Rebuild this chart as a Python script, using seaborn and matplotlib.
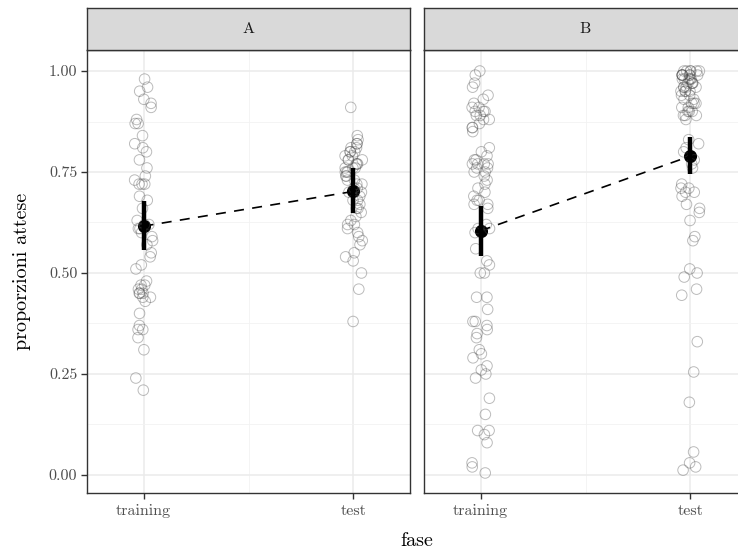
import numpy as np
import pandas as pd
import seaborn as sns
import matplotlib.pyplot as plt

sns.set_theme(style="white")
plt.rcParams["font.family"] = ["cmr10", "DejaVu Serif"]
plt.rcParams["axes.formatter.use_mathtext"] = True

# valori (proporzioni attese per soggetto)
a_training = [0.98, 0.96, 0.95, 0.93, 0.92, 0.91, 0.88, 0.87, 0.87, 0.84, 0.82, 0.81, 0.80,
              0.78, 0.76, 0.74, 0.73, 0.72, 0.72, 0.72, 0.69, 0.68, 0.66, 0.63, 0.62, 0.62,
              0.61, 0.61, 0.60, 0.59, 0.58, 0.57, 0.55, 0.54, 0.52, 0.51, 0.48, 0.47, 0.47,
              0.46, 0.46, 0.45, 0.45, 0.45, 0.44, 0.44, 0.43, 0.40, 0.37, 0.36, 0.36, 0.34,
              0.31, 0.24, 0.21]
a_test = [0.91, 0.84, 0.83, 0.82, 0.82, 0.81, 0.81, 0.80, 0.80, 0.80, 0.79, 0.79, 0.78, 0.78,
          0.78, 0.77, 0.77, 0.77, 0.76, 0.76, 0.76, 0.75, 0.75, 0.75, 0.74, 0.74, 0.73, 0.73,
          0.72, 0.72, 0.71, 0.71, 0.70, 0.70, 0.69, 0.68, 0.68, 0.67, 0.66, 0.66, 0.65, 0.64,
          0.63, 0.62, 0.62, 0.61, 0.60, 0.59, 0.58, 0.57, 0.55, 0.54, 0.53, 0.50, 0.46, 0.38]
b_training = [1.00, 0.99, 0.97, 0.96, 0.94, 0.93, 0.92, 0.91, 0.91, 0.90, 0.90, 0.90, 0.89,
              0.89, 0.88, 0.88, 0.87, 0.86, 0.86, 0.85, 0.81, 0.80, 0.79, 0.78, 0.78, 0.77,
              0.77, 0.77, 0.77, 0.76, 0.76, 0.75, 0.75, 0.74, 0.73, 0.72, 0.71, 0.70, 0.69,
              0.68, 0.68, 0.67, 0.67, 0.66, 0.62, 0.61, 0.61, 0.60, 0.56, 0.53, 0.52, 0.50,
              0.50, 0.44, 0.44, 0.41, 0.38, 0.38, 0.37, 0.36, 0.35, 0.34, 0.31, 0.30, 0.29,
              0.27, 0.26, 0.25, 0.24, 0.19, 0.15, 0.11, 0.11, 0.10, 0.08, 0.03, 0.02, 0.005]
b_test = [1.00, 1.00, 1.00, 1.00, 1.00, 1.00, 0.99, 0.99, 0.99, 0.99, 0.99, 0.99, 0.99, 0.98,
          0.98, 0.98, 0.98, 0.98, 0.97, 0.97, 0.97, 0.97, 0.96, 0.96, 0.96, 0.96, 0.95, 0.95,
          0.95, 0.95, 0.94, 0.94, 0.93, 0.93, 0.92, 0.92, 0.92, 0.91, 0.91, 0.90, 0.90, 0.90,
          0.89, 0.89, 0.89, 0.88, 0.83, 0.82, 0.81, 0.80, 0.78, 0.77, 0.76, 0.72, 0.71, 0.71,
          0.70, 0.70, 0.69, 0.67, 0.66, 0.65, 0.63, 0.59, 0.58, 0.51, 0.50, 0.49, 0.46, 0.445,
          0.33, 0.255, 0.18, 0.057, 0.03, 0.02, 0.012]

# intervalli attorno alla media, ordine: training, test
ci_low = {"A": [0.557, 0.649], "B": [0.542, 0.745]}
ci_high = {"A": [0.678, 0.760], "B": [0.666, 0.837]}

fasi = ["training", "test"]
condizioni = ["A", "B"]

rows = []
for cond, tr, te in [("A", a_training, a_test), ("B", b_training, b_test)]:
    rows += [(cond, "training", v) for v in tr]
    rows += [(cond, "test", v) for v in te]
df = pd.DataFrame(rows, columns=["condizione", "fase", "prop"])

W, H = 738, 553
fig = plt.figure(figsize=(W / 100, H / 100), dpi=100)


def box(x0, y0, x1, y1):
    return [x0 / W, 1 - y1 / H, (x1 - x0) / W, (y1 - y0) / H]


np.random.seed(3)
panel_x = {"A": (87, 410), "B": (424, 747)}
for cond in condizioni:
    x0, x1 = panel_x[cond]
    ax = fig.add_axes(box(x0, 50, x1, 493))
    sub = df[df["condizione"] == cond]

    sns.stripplot(data=sub, x="fase", y="prop", order=fasi, jitter=0.045, size=7.6,
                  color="white", edgecolor="0.3", linewidth=0.7, alpha=0.38, ax=ax)
    for coll in ax.collections:
        coll.set_facecolor("none")
    ax.vlines(range(len(fasi)), ci_low[cond], ci_high[cond], color="black",
              linewidth=3.2, zorder=4)
    sns.pointplot(data=sub, x="fase", y="prop", order=fasi, color="black",
                  linestyle="--", linewidth=1.2, markersize=8.5,
                  errorbar=None, ax=ax)
    for line in ax.lines:
        if line.get_linestyle() == "--":
            line.set_dashes([6, 5])

    ax.set_xlim(-0.27, 1.27)
    ax.set_ylim(-0.0446, 1.052)
    ax.set_yticks([0, 0.25, 0.5, 0.75, 1.0])
    ax.set_yticks([0.125, 0.375, 0.625, 0.875], minor=True)
    ax.set_xticks([0.5], minor=True)
    ax.grid(True, which="major", color="#EBEBEB", linewidth=1.1)
    ax.grid(True, which="minor", color="#F2F2F2", linewidth=0.6)
    ax.set_axisbelow(True)
    ax.set_xlabel("")
    ax.set_ylabel("")
    for s in ax.spines.values():
        s.set_color("#333333")
        s.set_linewidth(1.0)
    ax.tick_params(axis="x", which="major", bottom=True, length=4, width=1, color="#333333",
                   labelsize=11.5, labelcolor="#4D4D4D", pad=4)
    ax.tick_params(which="minor", length=0)
    if cond == "A":
        ax.set_yticklabels(["0.00", "0.25", "0.50", "0.75", "1.00"])
        ax.tick_params(axis="y", which="major", left=True, length=4, width=1, color="#333333",
                       labelsize=11.5, labelcolor="#4D4D4D", pad=3)
    else:
        ax.set_yticklabels([])
        ax.tick_params(axis="y", which="major", left=False, length=0)

    strip = fig.add_axes(box(x0, 8, x1, 50))
    strip.set_facecolor("#D9D9D9")
    strip.set_xticks([])
    strip.set_yticks([])
    for s in strip.spines.values():
        s.set_color("#333333")
        s.set_linewidth(1.0)
    strip.text(0.5, 0.5, cond, ha="center", va="center", fontsize=11.5, color="#1A1A1A",
               transform=strip.transAxes)

fig.text(417 / W, 1 - 541 / H, "fase", ha="center", va="center", fontsize=14.5, color="black")
fig.text(22 / W, 1 - 271 / H, "proporzioni attese", ha="center", va="center", rotation=90,
         fontsize=14.5, color="black")

fig.savefig("out.png", dpi=100)
